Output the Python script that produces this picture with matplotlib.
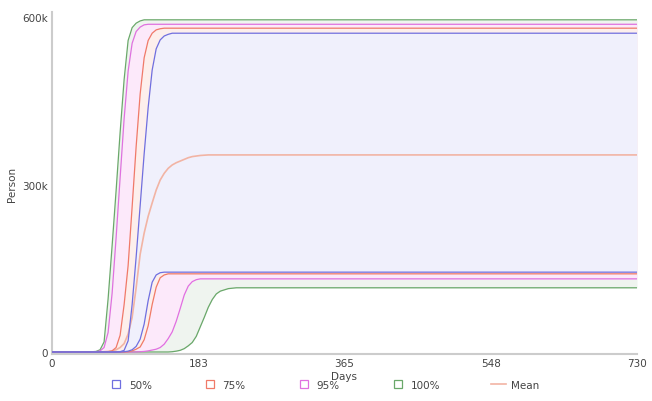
import matplotlib
matplotlib.use("Agg")
import matplotlib.pyplot as plt
from matplotlib.lines import Line2D

# ---- data (values in thousands of persons) ----
days = [0, 40, 50, 55, 60, 65, 70, 75, 80, 85, 90, 95, 100, 105, 110, 115, 120, 125,
        130, 135, 140, 145, 150, 155, 160, 165, 170, 175, 180, 185, 190, 195, 200,
        205, 210, 220, 230, 250, 300, 730]

upper_100 = [0, 0, 0.5, 1, 4, 18, 95, 190, 289, 393, 488, 558, 581, 589, 593, 595, 595, 595,
             595, 595, 595, 595, 595, 595, 595, 595, 595, 595, 595, 595, 595, 595, 595,
             595, 595, 595, 595, 595, 595, 595]
upper_95 = [0, 0, 0, 0.5, 2, 8, 35, 105, 205, 312, 418, 503, 553, 574, 582, 586, 587, 587,
            587, 587, 587, 587, 587, 587, 587, 587, 587, 587, 587, 587, 587, 587, 587,
            587, 587, 587, 587, 587, 587, 587]
upper_75 = [0, 0, 0, 0, 0, 0, 0.5, 2, 8, 30, 85, 155, 260, 368, 462, 527, 558, 571,
            577, 579, 580, 580, 580, 580, 580, 580, 580, 580, 580, 580, 580, 580, 580,
            580, 580, 580, 580, 580, 580, 580]
upper_50 = [0, 0, 0, 0, 0, 0, 0, 0, 0, 0.5, 3, 20, 85, 170, 262, 355, 438, 505,
            543, 559, 566, 569, 571, 571, 571, 571, 571, 571, 571, 571, 571, 571, 571,
            571, 571, 571, 571, 571, 571, 571]
lower_50 = [0, 0, 0, 0, 0, 0, 0, 0, 0, 0, 0.5, 1.5, 4, 10, 23, 50, 92, 125,
            138, 142, 143, 143, 143, 143, 143, 143, 143, 143, 143, 143, 143, 143, 143,
            143, 143, 143, 143, 143, 143, 143]
lower_75 = [0, 0, 0, 0, 0, 0, 0, 0, 0, 0, 0, 0.5, 2, 5, 9, 22, 47, 85,
            116, 133, 138, 140, 140, 140, 140, 140, 140, 140, 140, 140, 140, 140, 140,
            140, 140, 140, 140, 140, 140, 140]
lower_95 = [0, 0, 0, 0, 0, 0, 0, 0, 0, 0, 0, 0, 0, 0, 0.5, 1, 2, 3.5,
            5, 8, 14, 24, 36, 55, 78, 102, 118, 126, 129.5, 131, 131, 131, 131,
            131, 131, 131, 131, 131, 131, 131]
lower_100 = [0, 0, 0, 0, 0, 0, 0, 0, 0, 0, 0, 0, 0, 0, 0, 0, 0, 0,
             0, 0, 0, 0, 0.5, 1.5, 3, 6, 11, 17, 28, 45, 62, 80, 94,
             104, 109, 113.5, 115, 115, 115, 115]
mean = [0, 0, 0, 0, 0, 0.5, 1, 2, 4, 8, 15, 32, 62, 115, 175, 213, 243, 267,
        290, 308, 320, 329, 335, 339, 342, 345, 348, 350, 351, 352, 352.5, 353, 353,
        353, 353, 353, 353, 353, 353, 353]

x_ticks = [0, 183, 365, 548, 730]
y_ticks = [0, 300, 600]
y_tick_labels = ["0", "300k", "600k"]

band_labels = ["50%", "75%", "95%", "100%"]
line_colors = ["#6f6fe0", "#f07a68", "#e070e0", "#6aa86a"]
fill_colors = ["#f0f0fc", "#fdefec", "#fce9fa", "#eff4ef"]
mean_color = "#f2b4a4"

W, H = 652, 402
fig = plt.figure(figsize=(W / 100, H / 100), dpi=100)
ax = fig.add_axes([52 / W, 1 - 355 / H, 585 / W, (355 - 13) / H])

bands = [(lower_50, upper_50), (lower_75, upper_75), (lower_95, upper_95), (lower_100, upper_100)]

# fills: widest first
for i in [3, 2, 1, 0]:
    lo, hi = bands[i]
    ax.fill_between(days, lo, hi, color=fill_colors[i], lw=0, zorder=1 + (3 - i) * 0.1)

ax.plot(days, mean, color=mean_color, lw=1.2, zorder=3)
for i in [3, 2, 1, 0]:
    lo, hi = bands[i]
    ax.plot(days, hi, color=line_colors[i], lw=0.9, zorder=4, solid_joinstyle="round")
    ax.plot(days, lo, color=line_colors[i], lw=0.9, zorder=4, solid_joinstyle="round")

ax.set_xlim(0, 730)
ax.set_ylim(-3.6, 609)
ax.set_xticks(x_ticks)
ax.set_xticklabels([str(v) for v in x_ticks])
ax.set_yticks(y_ticks)
ax.set_yticklabels(y_tick_labels)
ax.tick_params(length=0, labelsize=7.5, labelcolor="#444444", pad=3)

for s in ["top", "right"]:
    ax.spines[s].set_visible(False)
for s in ["left", "bottom"]:
    ax.spines[s].set_color("#cccccc")
    ax.spines[s].set_linewidth(1.5)

ax.set_xlabel("Days", fontsize=7.5, color="#444444", labelpad=2)
ax.set_ylabel("Person", fontsize=7.5, color="#444444", labelpad=4)

handles = []
for i, lab in enumerate(band_labels):
    handles.append(Line2D([], [], linestyle="none", marker="s", markersize=6,
                          markerfacecolor="none", markeredgecolor=line_colors[i],
                          markeredgewidth=0.9, label=lab))
handles.append(Line2D([], [], color=mean_color, lw=1.2, label="Mean"))

fig.legend(handles=handles, loc="center", bbox_to_anchor=(324 / W, 1 - 386 / H),
           ncol=5, frameon=False, fontsize=7.5, handlelength=1.4, handletextpad=0.5,
           columnspacing=4.9, labelcolor="#444444")

fig.savefig("out.png", dpi=100)
